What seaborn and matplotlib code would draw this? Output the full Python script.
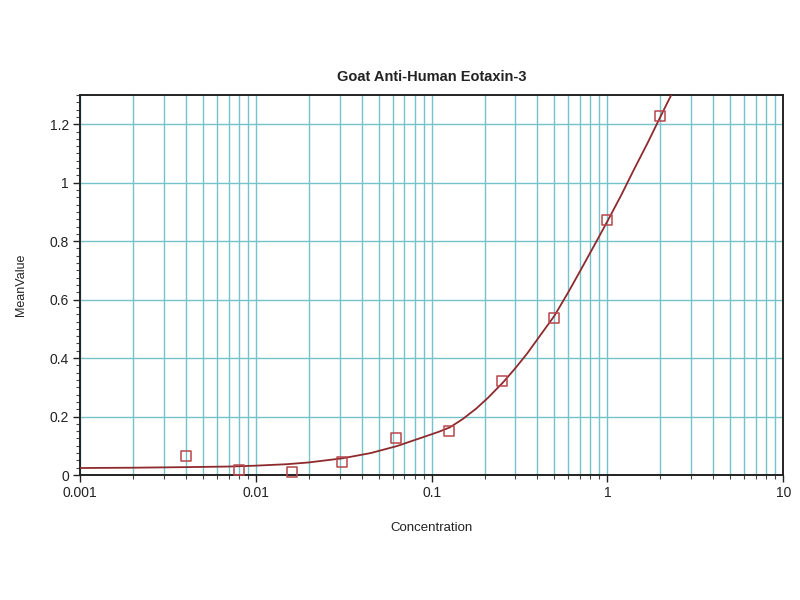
import numpy as np
import pandas as pd
import seaborn as sns
import matplotlib.pyplot as plt
from matplotlib.ticker import LogLocator, MultipleLocator, FixedLocator, FuncFormatter

# measured standards
conc = [0.004, 0.008, 0.016, 0.031, 0.0625, 0.125, 0.25, 0.5, 1.0, 2.0]
mean_value = [0.065, 0.017, 0.010, 0.044, 0.127, 0.151, 0.320, 0.536, 0.874, 1.229]

# fitted curve
fit_x = [0.001, 0.002, 0.004, 0.007, 0.01, 0.015, 0.02, 0.031, 0.045, 0.0635,
         0.09, 0.11, 0.127, 0.15, 0.18, 0.21, 0.256, 0.3, 0.35, 0.42, 0.5,
         0.6, 0.7, 0.85, 1.0, 1.2, 1.4, 1.7, 2.0, 2.2, 2.4]
fit_y = [0.024, 0.025, 0.027, 0.029, 0.032, 0.037, 0.043, 0.057, 0.075, 0.099,
         0.130, 0.148, 0.163, 0.191, 0.228, 0.265, 0.318, 0.366, 0.416, 0.482, 0.545,
         0.626, 0.698, 0.790, 0.868, 0.958, 1.039, 1.138, 1.225, 1.275, 1.32]

x_ticks = [0.001, 0.01, 0.1, 1, 10]
y_ticks = [0, 0.2, 0.4, 0.6, 0.8, 1.0, 1.2]

sns.set_theme(style="white")
plt.rcParams['font.family'] = ['Liberation Sans', 'DejaVu Sans']

fig = plt.figure(figsize=(8, 6), dpi=100)
ax = fig.add_axes([0.1, 0.2083, 0.879, 0.6334])

grid_col = '#74c2ca'
sns.lineplot(x=fit_x, y=fit_y, color='#8e2a2e', linewidth=1.3, ax=ax, zorder=3)
sns.scatterplot(x=conc, y=mean_value, marker='s', s=52, color='none',
                edgecolor='#b8464c', linewidth=1.1, ax=ax, zorder=4, clip_on=False)

ax.set_xscale('log')
ax.set_xlim(0.001, 10)
ax.set_ylim(0, 1.3)

ax.xaxis.set_major_locator(FixedLocator(x_ticks))
ax.xaxis.set_minor_locator(LogLocator(base=10, subs=np.arange(2, 10), numticks=20))
ax.xaxis.set_major_formatter(FuncFormatter(lambda v, p: f'{v:g}'))
ax.yaxis.set_major_locator(FixedLocator(y_ticks))
ax.yaxis.set_minor_locator(MultipleLocator(0.025))
ax.yaxis.set_major_formatter(FuncFormatter(lambda v, p: f'{v:g}'))

ax.grid(True, which='major', axis='both', color=grid_col, linewidth=1.0)
ax.grid(True, which='minor', axis='x', color=grid_col, linewidth=1.0)
ax.set_axisbelow(True)

for side in ['left', 'bottom', 'top', 'right']:
    ax.spines[side].set_visible(True)
    ax.spines[side].set_color('#222222')
    ax.spines[side].set_linewidth(1.4)

ax.tick_params(axis='both', which='major', direction='out', length=5, width=1,
               color='#222222', labelsize=10, labelcolor='#222222', pad=3,
               left=True, bottom=True)
ax.tick_params(axis='both', which='minor', direction='out', length=3, width=0.8,
               color='#444444', left=True, bottom=True)

ax.set_title('Goat Anti-Human Eotaxin-3', fontsize=10.5, fontweight='bold',
             color='#222222', pad=10)
ax.set_xlabel('Concentration', fontsize=9.5, color='#222222', labelpad=16)
ax.set_ylabel('MeanValue', fontsize=9, color='#222222', labelpad=16)

fig.savefig('out.png', dpi=100)
